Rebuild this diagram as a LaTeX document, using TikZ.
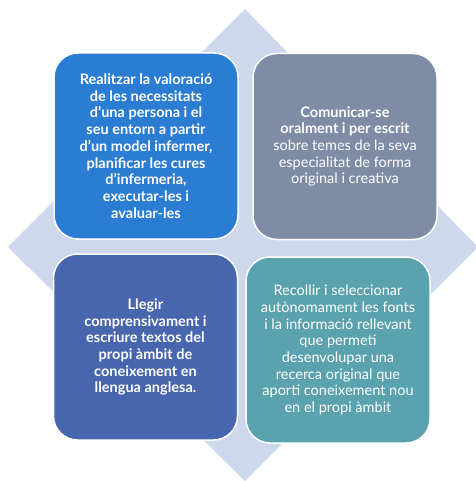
\documentclass[tikz,border=0pt]{standalone}
\usepackage{fontspec}
\setmainfont{Lato}
\definecolor{fons}{HTML}{CDD8EC}
\definecolor{blau}{HTML}{2B7CD3}
\definecolor{gris}{HTML}{7E8CA6}
\definecolor{blaufosc}{HTML}{4866AD}
\definecolor{verd}{HTML}{5AA2AE}
\begin{document}
\begin{tikzpicture}[x=1pt, y={(0pt,-1pt)},
  caixa/.style={draw=white, line width=1.5pt, rounded corners=24pt, minimum width=184pt,
    minimum height=186pt, text=white, align=center, font=\fontsize{14.5}{16.7}\selectfont},
  negreta/.style={caixa, font=\fontsize{14.5}{16.7}\selectfont\bfseries}]
\useasboundingbox (0, 0) rectangle (475, 481);
\fill [fons] (245, 9) -- (478, 247) -- (245, 481) -- (8, 247) -- cycle;

\node [negreta, fill=blau] (valoracio) at (146, 146) {Realitzar la valoració\\de les necessitats\\d’una persona i el\\seu entorn a partir\\d’un model infermer,\\planificar les cures\\d’infermeria,\\executar-les i\\avaluar-les};
\node [caixa, fill=gris] (comunicar) at (345, 146.5) {\textbf{Comunicar-se}\\\textbf{oralment i per escrit}\\sobre temes de la seva\\especialitat de forma\\original i creativa};
\node [negreta, fill=blaufosc] (llegir) at (145.5, 347) {Llegir\\comprensivament i\\escriure textos del\\propi àmbit de\\coneixement en\\llengua anglesa.};
\node [caixa, fill=verd] (recollir) at (338, 350) {Recollir i seleccionar\\autònomament les fonts\\i la informació rellevant\\que permeti\\desenvolupar una\\recerca original que\\aporti coneixement nou\\en el propi àmbit};

\end{tikzpicture}
\end{document}
